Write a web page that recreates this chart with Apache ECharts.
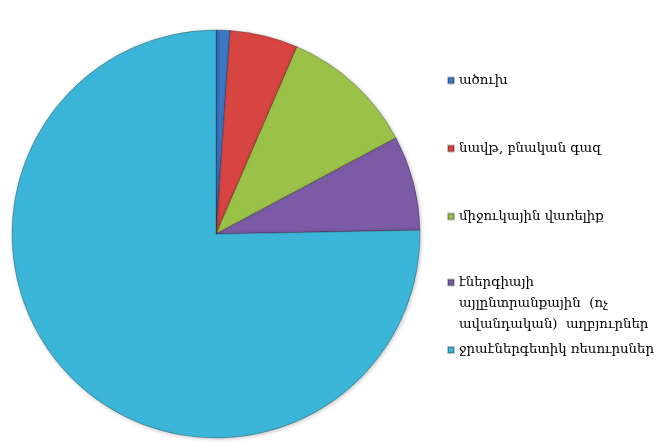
<!DOCTYPE html>
<html><head><meta charset="utf-8">
<script src="https://cdn.jsdelivr.net/npm/echarts@6/dist/echarts.min.js"></script>
<style>html,body{margin:0;padding:0;background:#fff}#c{width:657px;height:448px}</style>
</head><body><div id="c"></div>
<script>
const categories = ['ածուխ','նավթ, բնական գազ','միջուկային վառելիք','էներգիայի այլընտրանքային (ոչ ավանդական) աղբյուրներ','ջրաէներգետիկ ռեսուրսներ'];
const values = [1.1, 5.4, 10.7, 7.5, 75.3];
const colors = ['#3b78c6','#d64541','#9bc248','#7c5ba6','#3cb6d8'];
const legendTops = [65, 133, 201, 225, 334.5];
const labelText = {
  'էներգիայի այլընտրանքային (ոչ ավանդական) աղբյուրներ': ' \n \nէներգիայի\nայլընտրանքային  (ոչ\nավանդական)  աղբյուրներ'
};
const chart = echarts.init(document.getElementById('c'));
chart.setOption({
  animation: false,
  color: colors,
  legend: categories.map((n, i) => ({
    data: [n],
    left: 442,
    top: legendTops[i],
    icon: 'rect',
    itemWidth: 6,
    itemHeight: 6,
    itemGap: 0,
    formatter: nm => labelText[nm] || nm,
    selectedMode: false,
    textStyle: {fontFamily: 'DejaVu Serif', fontSize: 13.3, color: '#000', lineHeight: 21}
  })),
  series: [{
    type: 'pie',
    center: [216, 234],
    radius: 204,
    startAngle: 90,
    clockwise: true,
    label: {show: false},
    labelLine: {show: false},
    emphasis: {disabled: true},
    itemStyle: {borderColor: 'rgba(0,0,0,0.25)', borderWidth: 1, shadowBlur: 4, shadowColor: 'rgba(0,0,0,0.25)', shadowOffsetX: 1, shadowOffsetY: 1},
    data: categories.map((n, i) => ({name: n, value: values[i]}))
  }]
});
</script></body></html>
